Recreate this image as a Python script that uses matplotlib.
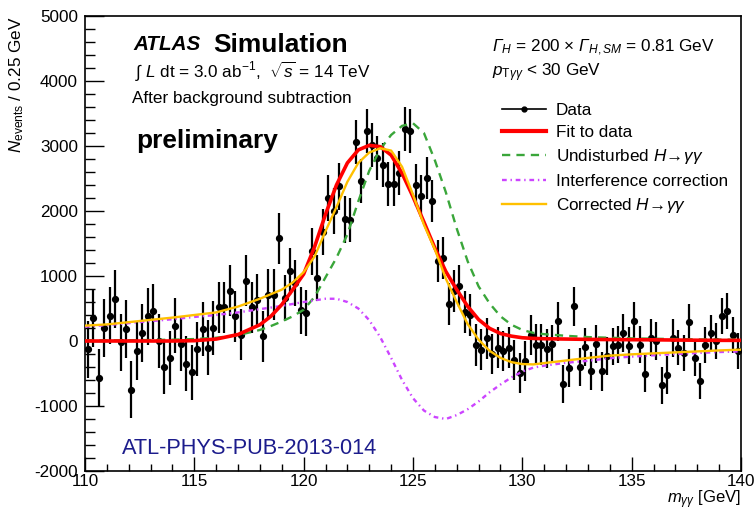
import matplotlib
matplotlib.use('Agg')
import matplotlib.pyplot as plt
from matplotlib.ticker import MultipleLocator
from matplotlib.lines import Line2D
import numpy as np

plt.rcParams['font.family'] = ['Liberation Sans', 'DejaVu Sans']
plt.rcParams['mathtext.fontset'] = 'custom'
plt.rcParams['mathtext.rm'] = 'Liberation Sans'
plt.rcParams['mathtext.it'] = 'Liberation Sans:italic'
plt.rcParams['mathtext.bf'] = 'Liberation Sans:bold'
plt.rcParams['mathtext.sf'] = 'Liberation Sans:italic'
plt.rcParams['axes.unicode_minus'] = False

# ---------------- data ----------------
bin_low = 110.0
bin_width = 0.25
counts = [
    -130, 354, -570, 200, 390, 646, -20, 185, -750, -155, 123, 378,
    458, -3, -403, -261, 236, -40, -350, -480, -125, 185, -100, 200,
    518, 518, 774, 379, 97, 928, 518, 636, 72, 713, 713, 1580,
    661, 1072, 892, 470, 431, 1379, 969, 1677, 2200, 2000, 2380, 1870,
    1867, 3061, 2466, 3226, 3021, 2815, 2712, 2415, 2415, 2585, 3267, 3226,
    2395, 2226, 2508, 2149, 1226, 1277, 569, 774, 841, 450, 400, -56,
    -133, 40, -205, -100, -150, -100, -295, -495, -313, 92, -56, -56,
    -118, -50, 302, -661, -420, 533, -402, -90, -460, -50, -467, -230,
    -82, -60, 123, -70, 313, -56, -500, 50, 0, -682, -523, 46,
    -100, -190, 297, -261, -621, -56, 130, 0, 379, 456, 87, -159,
]
errors = [
    440, 440, 440, 440, 440, 440, 440, 440, 440, 440, 440, 440,
    420, 420, 420, 420, 420, 420, 420, 420, 420, 420, 420, 420,
    390, 390, 390, 390, 390, 390, 390, 390, 390, 390, 390, 390,
    360, 360, 360, 360, 360, 360, 360, 360, 360, 360, 360, 360,
    340, 340, 340, 340, 340, 340, 340, 340, 340, 340, 340, 340,
    325, 325, 325, 325, 325, 325, 325, 325, 325, 325, 325, 325,
    310, 310, 310, 310, 310, 310, 310, 310, 310, 310, 310, 310,
    295, 295, 295, 295, 295, 295, 295, 295, 295, 295, 295, 295,
    285, 285, 285, 285, 285, 285, 285, 285, 285, 285, 285, 285,
    275, 275, 275, 275, 275, 275, 275, 275, 275, 275, 275, 275,
]

curve_mass = [110, 111, 112, 113, 114, 115, 116, 117, 118, 118.5, 119, 119.5,
              120, 120.5, 121, 121.5, 122, 122.5, 123, 123.5, 124, 124.5, 125,
              125.5, 126, 126.5, 127, 127.5, 128, 128.5, 129, 129.5, 130, 130.5,
              131, 132, 133, 134, 135, 136, 137, 138, 139, 140]
fit_to_data = [0, 0, 0, 0, 0, 5, 30, 100, 250, 380, 560, 790,
               1030, 1450, 1950, 2400, 2740, 2940, 3010, 2990, 2860, 2580, 2220,
               1830, 1430, 1070, 790, 533, 330, 195, 115, 75, 50, 40,
               35, 30, 25, 22, 20, 18, 15, 12, 10, 10]
undisturbed = [10, 10, 12, 15, 20, 30, 50, 90, 170, 230, 300, 380,
               480, 680, 980, 1280, 1640, 2150, 2620, 2950, 3170, 3310, 3350,
               3200, 2780, 2290, 1730, 1226, 840, 580, 380, 250, 170, 125,
               105, 80, 60, 50, 40, 35, 30, 25, 22, 20]
interference = [220, 245, 275, 305, 335, 370, 400, 440, 490, 515, 540, 570,
                600, 625, 650, 650, 600, 500, 320, 60, -260, -600, -880,
                -1070, -1170, -1200, -1140, -1050, -930, -790, -670, -560, -470, -410,
                -380, -335, -305, -265, -240, -220, -200, -185, -170, -160]
corrected = [236, 255, 290, 325, 360, 400, 440, 530, 650, 720, 790, 900,
             1060, 1300, 1690, 2060, 2450, 2740, 2900, 2965, 2930, 2680, 2250,
             1790, 1410, 960, 600, 260, 20, -150, -260, -325, -355, -360,
             -340, -300, -260, -225, -205, -190, -175, -160, -145, -133]

legend_labels = ['Data', 'Fit to data', r'Undisturbed $H\!\rightarrow\!\gamma\gamma$',
                 'Interference correction', r'Corrected $H\!\rightarrow\!\gamma\gamma$']

# ---------------- figure ----------------
W, H = 754, 512
fig = plt.figure(figsize=(W / 100, H / 100), dpi=100)
ax = fig.add_axes([85 / W, 1 - 471 / H, 656 / W, 455 / H])

centers = bin_low + bin_width * (np.arange(len(counts)) + 0.5)

RED = '#ff0000'
GREEN = '#3aa63a'
MAG = '#cc44ff'
ORANGE = '#ffc000'

ax.errorbar(centers, counts, yerr=errors, fmt='o', color='black', ms=4.2,
            elinewidth=1.6, capsize=0, zorder=2)
ax.plot(curve_mass, undisturbed, color=GREEN, lw=1.7, ls=(0, (3.5, 2.6)), zorder=3)
ax.plot(curve_mass, interference, color=MAG, lw=1.7, ls=(0, (2.0, 1.6, 0.6, 1.6)), zorder=3)
ax.plot(curve_mass, fit_to_data, color=RED, lw=2.6, zorder=4)
ax.plot(curve_mass, corrected, color=ORANGE, lw=1.7, zorder=5)

ax.set_xlim(110, 140)
ax.set_ylim(-2000, 5000)
ax.xaxis.set_major_locator(MultipleLocator(5))
ax.xaxis.set_minor_locator(MultipleLocator(1))
ax.yaxis.set_major_locator(MultipleLocator(1000))
ax.yaxis.set_minor_locator(MultipleLocator(200))
ax.tick_params(which='both', direction='in', top=False, right=False,
               labelsize=12.3, width=1.0)
ax.tick_params(axis='x', which='major', length=10, pad=2.5)
ax.tick_params(axis='x', which='minor', length=5)
ax.tick_params(axis='y', which='major', length=14, pad=5)
ax.tick_params(axis='y', which='minor', length=7)
for s in ax.spines.values():
    s.set_linewidth(1.2)

ax.set_xlabel(r'$m_{\gamma\gamma}$ [GeV]', fontsize=12, loc='right')
ax.xaxis.set_label_coords(1.0, -0.038)
ax.set_ylabel(r'$N_{\mathrm{events}}$ / 0.25 GeV', fontsize=12.3, loc='top')
ax.yaxis.set_label_coords(-0.09, 1.0)

# texts
fig.text(133 / W, 1 - 45 / H, 'ATLAS', fontsize=14.9, fontweight='bold',
         fontstyle='italic', va='center')
fig.text(213 / W, 1 - 45 / H, 'Simulation', fontsize=18.9, fontweight='bold', va='center')
fig.text(135 / W, 1 - 72 / H, r'$\int$ $L$ dt = 3.0 ab$^{-1}$,  $\sqrt{s}$ = 14 TeV',
         fontsize=12.3, va='center')
fig.text(132 / W, 1 - 99 / H, 'After background subtraction', fontsize=12.3, va='center')
fig.text(136 / W, 1 - 141 / H, 'preliminary', fontsize=18.9, fontweight='bold', va='center')
fig.text(122 / W, 1 - 449 / H, 'ATL-PHYS-PUB-2013-014', fontsize=15.7, color='#1c1c8c',
         va='center')
fig.text(492 / W, 1 - 48 / H, r'$\mathsf{Γ}_{\mathit{H}}$ = 200 × $\mathsf{Γ}_{\mathit{H,SM}}$ = 0.81 GeV',
         fontsize=12.3, va='center')
fig.text(492 / W, 1 - 73 / H, r'$\mathit{p}_{\mathrm{T}\gamma\gamma}$ < 30 GeV',
         fontsize=12.3, va='center')

handles = [
    Line2D([], [], color='black', lw=1.2, marker='o', ms=3.5),
    Line2D([], [], color=RED, lw=3.0),
    Line2D([], [], color=GREEN, lw=1.7, ls=(0, (3.5, 2.6))),
    Line2D([], [], color=MAG, lw=1.7, ls=(0, (2.0, 1.6, 0.6, 1.6))),
    Line2D([], [], color=ORANGE, lw=1.7),
]
leg = fig.legend(handles, legend_labels, loc='upper left',
                 bbox_to_anchor=(502 / W, 1 - 103 / H), frameon=False,
                 fontsize=12.3, handlelength=2.6, handletextpad=0.55,
                 labelspacing=0.42, borderpad=0, borderaxespad=0)

fig.savefig('out.png', dpi=100)
